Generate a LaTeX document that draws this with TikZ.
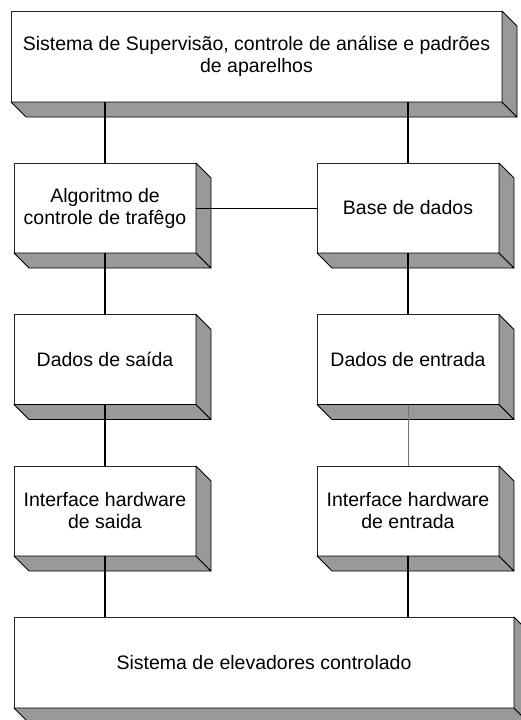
\documentclass[tikz,border=0pt]{standalone}
\usepackage{fontspec}
\setmainfont{Liberation Sans}
\usepackage{xcolor}
\usepackage{tikz}
\usetikzlibrary{positioning}

\begin{document}
\begin{tikzpicture}[
        x=1pt, y=-1pt,
        box/.style={rectangle, draw=black!85, line width=0.8pt, fill=white, outer sep=0pt, inner sep=4pt,
                    minimum width=182pt, minimum height=90pt, align=center, font=\fontsize{19.5}{22}\selectfont},
        wide/.style={box, minimum width=#1},
        side/.style={fill=black!40, draw=black, line width=0.8pt, line join=round},
        link/.style={line width=2pt, black},
        thinlink/.style={line width=0.9pt, black},
        greylink/.style={line width=0.9pt, black!55}
    ]
    \useasboundingbox (0,0) rectangle (520,720);

    % Top level
    \node[wide=491pt, minimum height=91pt] (sup) at (256.5,56.5) {Sistema de Supervisão, controle de análise e padrões\\de aparelhos};

    % Left column
    \node[box] (alg) at (105,208) {Algoritmo de\\controle de trafêgo};
    \node[box] (saida) at (105,359.5) {Dados de saída};
    \node[box] (hwsaida) at (105,511) {Interface hardware\\de saida};

    % Right column
    \node[box] (base) at (408,208) {Base de dados};
    \node[box] (entrada) at (408,359.5) {Dados de entrada};
    \node[box] (hwentrada) at (408,511) {Interface hardware\\de entrada};

    % Bottom level
    \node[wide=500pt, minimum height=91pt] (elev) at (264,662.5) {Sistema de elevadores controlado};

    % 3D sides of every box
    \foreach \n in {sup,alg,saida,hwsaida,base,entrada,hwentrada,elev} {
        \draw[side] (\n.south west) -- (\n.south east) -- ([shift={(15,15)}]\n.south east) -- ([shift={(15,15)}]\n.south west) -- cycle;
        \draw[side] (\n.north east) -- ([shift={(15,15)}]\n.north east) -- ([shift={(15,15)}]\n.south east) -- (\n.south east) -- cycle;
    }

    % Connections
    \draw[link] (alg.north |- sup.south) -- (alg.north);
    \draw[link] (base.north |- sup.south) -- (base.north);
    \draw[thinlink] (alg.east) -- (base.west);
    \draw[link] (alg.south) -- (saida.north);
    \draw[link] (base.south) -- (entrada.north);
    \draw[link] (saida.south) -- (hwsaida.north);
    \draw[greylink] (entrada.south) -- (hwentrada.north);
    \draw[link] (hwsaida.south) -- (hwsaida.south |- elev.north);
    \draw[link] (hwentrada.south) -- (hwentrada.south |- elev.north);

\end{tikzpicture}
\end{document}
